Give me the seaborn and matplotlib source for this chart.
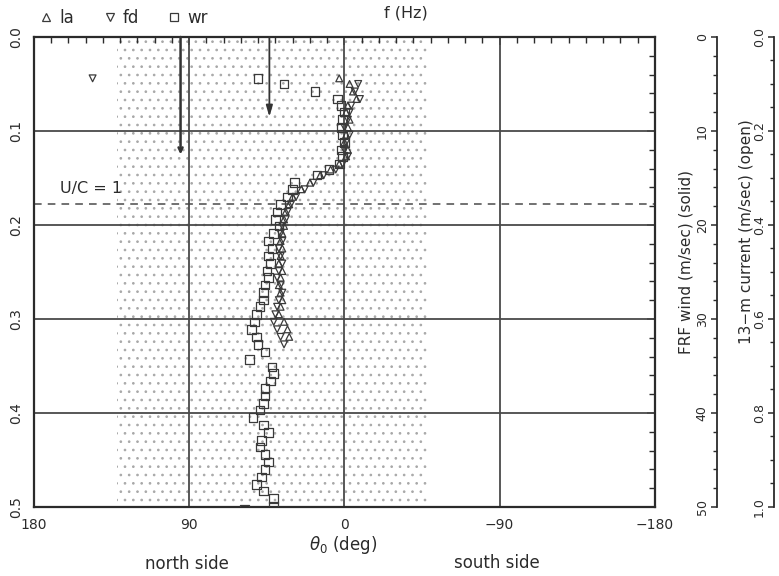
import matplotlib
matplotlib.use("Agg")
import matplotlib.pyplot as plt
import matplotlib.transforms as mtransforms
from matplotlib.ticker import MultipleLocator, FixedLocator, FuncFormatter
from matplotlib.lines import Line2D
import pandas as pd
import seaborn as sns

# ---------------------------------------------------------------------------
# Mean wave direction theta_0 (deg) versus frequency f (Hz) for three methods
# ---------------------------------------------------------------------------
la_f = [0.044, 0.050, 0.058, 0.066, 0.073, 0.080, 0.088, 0.096, 0.104, 0.112,
        0.120, 0.127, 0.135, 0.141, 0.147, 0.155, 0.162, 0.170, 0.178, 0.186,
        0.194, 0.201, 0.209, 0.217, 0.225, 0.233, 0.241, 0.249, 0.256, 0.264,
        0.272, 0.280, 0.287, 0.295, 0.303, 0.311, 0.319]
la_theta = [3, -3, -5, -7, -2, -1, -3, -2, -1, 0,
            -2, -1, 3, 8, 14, 20, 25, 30, 32, 34,
            35, 35, 36, 37, 36, 37, 38, 36, 37, 38,
            37, 36, 37, 38, 35, 33, 32]

fd_f = [0.044, 0.050, 0.058, 0.066, 0.073, 0.080, 0.088, 0.096, 0.104, 0.112,
        0.120, 0.127, 0.135, 0.141, 0.147, 0.155, 0.162, 0.170, 0.178, 0.186,
        0.194, 0.201, 0.209, 0.217, 0.225, 0.233, 0.241, 0.249, 0.256, 0.264,
        0.272, 0.280, 0.287, 0.295, 0.303, 0.311, 0.319, 0.327]
fd_theta = [146, -8, -6, -9, -4, -3, -2, 0, -3, -1,
            0, -2, 1, 5, 12, 18, 23, 28, 31, 33,
            34, 36, 37, 36, 38, 37, 36, 38, 39, 37,
            36, 38, 39, 40, 41, 39, 37, 35]

wr_f = [0.044, 0.050, 0.058, 0.066, 0.073, 0.080, 0.088, 0.096, 0.104, 0.112,
        0.120, 0.127, 0.135, 0.141, 0.147, 0.155, 0.162, 0.170, 0.178, 0.186,
        0.194, 0.201, 0.209, 0.217, 0.225, 0.233, 0.241, 0.249, 0.256, 0.264,
        0.272, 0.280, 0.287, 0.295, 0.303, 0.311, 0.319, 0.327, 0.335, 0.343,
        0.351, 0.358, 0.366, 0.374, 0.382, 0.390, 0.397, 0.405, 0.413, 0.421,
        0.429, 0.436, 0.444, 0.452, 0.460, 0.468, 0.476, 0.483, 0.491, 0.499,
        0.502]
wr_theta = [50, 35, 17, 4, 2, 0, 1, 2, 1, 0,
            2, 1, 3, 9, 16, 29, 30, 33, 37, 39,
            40, 38, 41, 44, 42, 44, 43, 45, 44, 46,
            47, 47, 49, 51, 52, 54, 51, 50, 46, 55,
            42, 41, 43, 46, 46, 47, 49, 53, 47, 44,
            48, 49, 46, 44, 46, 48, 51, 47, 41, 41,
            58]

# Wind (solid) and 13-m current (open) direction and speed
wind_dir, wind_speed = 95.0, 12.5        # deg, m/s
current_dir, current_speed = 43.5, 0.17  # deg, m/s

# Offshore half-plane (shoreline normal 42 deg +/- 90 deg) and U/C = 1 level
shadow_hi, shadow_lo = 132.0, -48.0
uc_one_f = 0.178

x_ticks = [180, 90, 0, -90, -180]
y_ticks = [0.0, 0.1, 0.2, 0.3, 0.4, 0.5]
wind_ticks = [0, 10, 20, 30, 40, 50]
current_ticks = [0.0, 0.2, 0.4, 0.6, 0.8, 1.0]

df = pd.concat([
    pd.DataFrame({"theta": la_theta, "f": la_f, "method": "la"}),
    pd.DataFrame({"theta": fd_theta, "f": fd_f, "method": "fd"}),
    pd.DataFrame({"theta": wr_theta, "f": wr_f, "method": "wr"}),
], ignore_index=True)

sns.set_theme(style="white")
plt.rcParams["font.family"] = ["DejaVu Sans"]
plt.rcParams["hatch.linewidth"] = 0.7
plt.rcParams["mathtext.fontset"] = "dejavusans"

ink = "#2b2b2b"
fig = plt.figure(figsize=(7.79, 5.76), dpi=100)
ax = fig.add_axes([0.0436, 0.1198, 0.797, 0.816])

# dotted offshore sector
ax.axvspan(shadow_lo, shadow_hi, facecolor="none", edgecolor="#a8a8a8",
           hatch="..", linewidth=0, zorder=0)

for fy in [0.1, 0.2, 0.3, 0.4]:
    ax.axhline(fy, color="#4a4a4a", lw=1.3, zorder=1)
for tx in [90, 0, -90]:
    ax.axvline(tx, color="#4a4a4a", lw=1.3, zorder=1)
ax.axhline(uc_one_f, color="#4a4a4a", lw=1.1, ls=(0, (5, 4)), zorder=1)
ax.text(147, uc_one_f - 0.009, "U/C = 1", fontsize=11.5, color=ink,
        ha="center", va="bottom")

markers = {"la": "^", "fd": "v", "wr": "s"}
sizes = {"la": 24, "fd": 24, "wr": 38}
for name in ["wr", "la", "fd"]:
    sub = df[df["method"] == name]
    sns.scatterplot(data=sub, x="theta", y="f", marker=markers[name],
                    s=sizes[name], facecolors="none", edgecolor="#3a3a3a",
                    linewidth=0.9, ax=ax, zorder=3)

ax.set_xlim(180, -180)
ax.set_ylim(0.5, 0.0)
ax.xaxis.set_major_locator(FixedLocator(x_ticks))
ax.xaxis.set_minor_locator(MultipleLocator(10))
ax.yaxis.set_major_locator(FixedLocator(y_ticks))
ax.yaxis.set_minor_locator(MultipleLocator(0.02))
ax.xaxis.set_major_formatter(FuncFormatter(lambda v, p: f"{v:.0f}".replace("-", "\u2212")))
ax.yaxis.set_major_formatter(FuncFormatter(lambda v, p: f"{v:.1f}"))
ax.tick_params(which="both", direction="in", top=True, right=True,
               color=ink, labelsize=10, labelcolor=ink)
ax.tick_params(which="major", length=6, width=1.2, pad=8)
ax.tick_params(which="minor", length=4, width=1.0)
for lab in ax.get_yticklabels():
    lab.set_rotation(90)
    lab.set_va("center")
for sp in ax.spines.values():
    sp.set_color(ink)
    sp.set_linewidth(1.6)
ax.set_xlabel("")
ax.set_ylabel("")

# legend: one open marker per method
order = ["la", "fd", "wr"]
handles = [Line2D([], [], ls="none", marker=markers[k], markersize=5.5,
                  markerfacecolor="none", markeredgecolor="#3a3a3a",
                  markeredgewidth=0.9) for k in order]
ax.legend(handles, order, loc="lower left", bbox_to_anchor=(-0.004, 1.008),
          ncol=3, frameon=False, fontsize=12, handletextpad=0.3,
          columnspacing=1.6, borderaxespad=0.0, handlelength=1.0,
          labelcolor=ink)

# right-hand speed scales
ax_w = fig.add_axes([0.9205, 0.1198, 0.0001, 0.816])
ax_c = fig.add_axes([0.9936, 0.1198, 0.0001, 0.816])
for a, lim, ticks, minor in [(ax_w, (50, 0), wind_ticks, 2),
                             (ax_c, (1.0, 0.0), current_ticks, 0.05)]:
    a.set_ylim(*lim)
    a.patch.set_visible(False)
    for s in ["top", "right", "bottom"]:
        a.spines[s].set_visible(False)
    a.spines["left"].set_color(ink)
    a.spines["left"].set_linewidth(1.3)
    a.set_xticks([])
    a.yaxis.set_major_locator(FixedLocator(ticks))
    a.yaxis.set_minor_locator(MultipleLocator(minor))
    a.tick_params(axis="y", which="both", direction="out", left=True,
                  color=ink, labelsize=9, labelcolor=ink, pad=2)
    a.tick_params(axis="y", which="major", length=4, width=1.1)
    a.tick_params(axis="y", which="minor", length=3, width=1.0)
ax_w.yaxis.set_major_formatter(FuncFormatter(lambda v, p: f"{v:.0f}"))
ax_c.yaxis.set_major_formatter(FuncFormatter(lambda v, p: f"{v:.1f}"))
for a in (ax_w, ax_c):
    for lab in a.get_yticklabels():
        lab.set_rotation(90)
        lab.set_va("center")

# wind and current direction arrows, lengths on the right-hand scales
tw = mtransforms.blended_transform_factory(ax.transData, ax_w.transData)
tc = mtransforms.blended_transform_factory(ax.transData, ax_c.transData)
ax.annotate("", xy=(wind_dir, wind_speed), xytext=(wind_dir, 0),
            xycoords=tw, textcoords=tw,
            arrowprops=dict(arrowstyle="->,head_length=0.25,head_width=0.12",
                            lw=1.8, color="#333333", shrinkA=0, shrinkB=0))
ax.annotate("", xy=(current_dir, current_speed), xytext=(current_dir, 0),
            xycoords=tc, textcoords=tc,
            arrowprops=dict(arrowstyle="-|>,head_length=0.55,head_width=0.16",
                            lw=1.3, color="#333333", shrinkA=0, shrinkB=0))

fig.text(686 / 779, 1 - 262 / 576, "FRF wind (m/sec) (solid)", rotation=90,
         ha="center", va="center", fontsize=11, color=ink)
fig.text(746 / 779, 1 - 232 / 576, "13\u2212m current (m/sec) (open)", rotation=90,
         ha="center", va="center", fontsize=11, color=ink)
fig.text(406 / 779, 1 - 13 / 576, "f (Hz)", ha="center", va="center",
         fontsize=11.5, color=ink)
fig.text(343 / 779, 1 - 545 / 576, r"$\theta_0$ (deg)", ha="center",
         va="center", fontsize=12, color=ink)
fig.text(187 / 779, 1 - 564 / 576, "north side", ha="center", va="center",
         fontsize=12, color=ink)
fig.text(497 / 779, 1 - 563 / 576, "south side", ha="center", va="center",
         fontsize=12, color=ink)

fig.savefig("out.png", dpi=100)
